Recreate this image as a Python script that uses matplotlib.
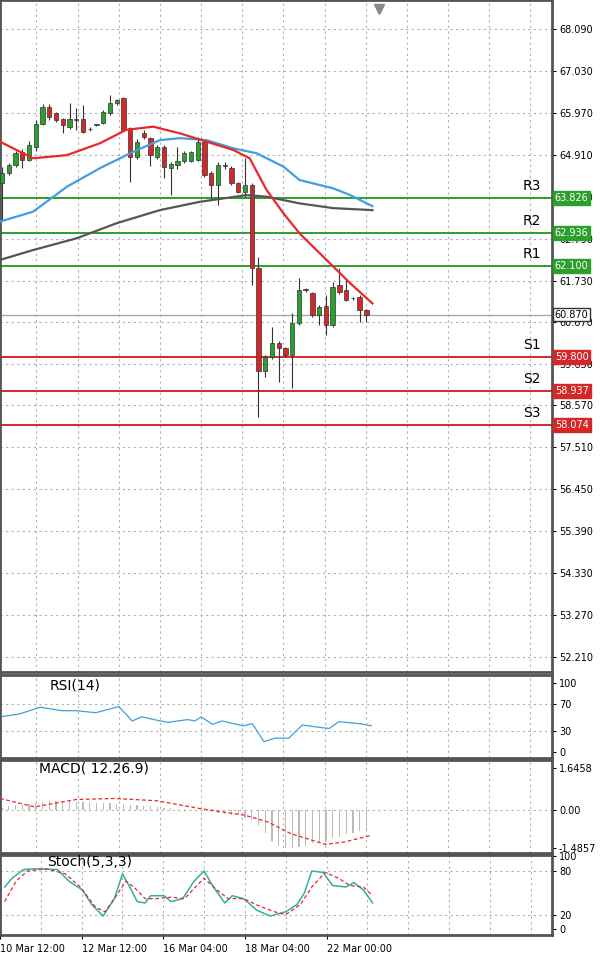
import matplotlib
matplotlib.use('Agg')
import matplotlib.pyplot as plt
import matplotlib.transforms as mtransforms
import numpy as np

# candles: open, high, low, close
opens = [64.19, 64.44, 64.65, 64.99, 64.78, 65.11, 65.70, 66.13, 65.96, 65.81, 65.62, 65.81, 65.81, 65.55,
         65.66, 65.72, 65.96, 66.21, 66.34, 65.58, 64.86, 65.47, 65.33, 64.86, 65.11, 64.57, 64.65, 64.74,
         64.74, 64.78, 65.24, 64.44, 64.15, 64.63, 64.57, 64.19, 63.98, 64.15, 62.04, 59.43, 59.80, 60.14,
         60.02, 59.85, 60.65, 61.51, 61.41, 60.86, 61.09, 60.61, 61.62, 61.49, 61.28, 61.32, 60.98]
highs = [64.61, 64.70, 65.00, 65.05, 65.25, 65.79, 66.20, 66.20, 66.00, 65.85, 66.21, 66.08, 66.17, 65.60,
         65.70, 66.05, 66.42, 66.33, 66.38, 65.62, 65.30, 65.54, 65.36, 65.15, 65.15, 64.72, 65.11, 65.00,
         65.00, 65.37, 65.28, 64.50, 64.72, 64.72, 64.62, 64.23, 64.82, 64.20, 62.33, 59.85, 60.56, 60.20,
         60.05, 60.90, 61.79, 61.55, 61.45, 61.10, 61.36, 61.70, 62.04, 61.74, 61.32, 61.36, 61.00]
lows = [63.26, 64.40, 64.60, 64.57, 64.75, 65.00, 65.65, 65.80, 65.75, 65.45, 65.55, 65.54, 65.45, 65.50,
        65.63, 65.68, 65.92, 66.18, 65.50, 64.23, 64.80, 65.30, 64.63, 64.80, 64.31, 63.89, 64.55, 64.70,
        64.72, 64.74, 64.35, 63.81, 63.64, 64.55, 64.15, 63.94, 63.85, 61.62, 58.29, 59.30, 59.75, 59.17,
        59.80, 59.00, 60.60, 61.45, 60.80, 60.61, 60.35, 60.55, 61.40, 61.20, 61.24, 60.69, 60.69]
closes = [64.44, 64.65, 64.95, 64.78, 65.16, 65.70, 66.13, 65.87, 65.79, 65.66, 65.81, 65.80, 65.49, 65.56,
          65.67, 66.00, 66.21, 66.29, 65.54, 64.86, 65.24, 65.37, 64.90, 65.11, 64.61, 64.68, 64.74, 64.95,
          64.99, 65.24, 64.40, 64.15, 64.65, 64.62, 64.19, 63.98, 64.15, 62.04, 59.43, 59.80, 60.14, 60.02,
          59.85, 60.65, 61.49, 61.50, 60.86, 61.07, 60.61, 61.57, 61.45, 61.24, 61.28, 60.98, 60.87]

# moving averages (bar index, price)
ma_fast_x = [-0.3, 4.6, 9.6, 14.5, 18.4, 22.4, 26.4, 30.3, 34.3, 36.7, 39.2, 41.7, 44.1, 46.6, 49.1, 51.6, 54.9]
ma_fast_y = [65.24, 64.82, 64.90, 65.20, 65.54, 65.62, 65.45, 65.24, 65.03, 64.82, 64.02, 63.43, 62.92, 62.50,
             62.08, 61.66, 61.15]
ma_mid_x = [-0.3, 4.6, 9.6, 14.5, 19.5, 23.4, 26.4, 30.3, 34.3, 37.7, 41.7, 44.1, 49.1, 51.6, 54.9]
ma_mid_y = [63.22, 63.47, 64.10, 64.57, 64.99, 65.28, 65.33, 65.28, 65.07, 64.95, 64.61, 64.27, 64.06, 63.89, 63.61]
ma_slow_x = [-0.3, 4.6, 11.1, 17.0, 23.4, 29.3, 36.2, 39.2, 44.1, 49.1, 54.9]
ma_slow_y = [62.25, 62.50, 62.80, 63.18, 63.51, 63.72, 63.89, 63.85, 63.68, 63.56, 63.51]

res_names = ['R3', 'R2', 'R1']
res_levels = [63.826, 62.936, 62.100]
sup_names = ['S1', 'S2', 'S3']
sup_levels = [59.800, 58.937, 58.074]
last_price = 60.870
price_ticks = [52.210, 53.270, 54.330, 55.390, 56.450, 57.510, 58.570, 59.630, 60.670, 61.730,
               62.790, 63.850, 64.910, 65.970, 67.030, 68.090]

rsi_x = [-0.3, 2.5, 5.7, 8.8, 11.0, 13.9, 17.3, 19.3, 20.7, 23.0, 24.6, 27.5, 28.6, 29.5, 31.2, 32.6, 35.7,
         37.1, 38.8, 40.5, 42.5, 44.5, 46.8, 48.5, 49.9, 53.0, 54.7]
rsi_y = [51, 55, 65, 60, 60, 57, 66, 45, 51, 46, 43, 47, 45, 51, 40, 45, 38, 41, 15, 20, 20, 39, 36, 34, 44, 41, 38]

macd_hist = [0.10, 0.15, 0.20, 0.20, 0.25, 0.30, 0.32, 0.35, 0.35, 0.35, 0.35, 0.34, 0.33, 0.32, 0.30, 0.30,
             0.28, 0.26, 0.24, 0.22, 0.20, 0.18, 0.15, 0.12, 0.10, 0.08, 0.05, 0.03, 0.01, 0.0, -0.05, -0.08,
             -0.10, -0.14, -0.17, -0.20, -0.30, -0.40, -0.60, -0.90, -1.20, -1.40, -1.50, -1.50, -1.45, -1.40,
             -1.30, -1.25, -1.20, -1.10, -1.05, -0.95, -0.90, -0.80, -0.75]
macd_sig_x = [-0.3, 4.8, 11.0, 16.7, 23.0, 29.2, 36.0, 39.4, 42.8, 47.9, 50.7, 54.7]
macd_sig_y = [0.46, 0.13, 0.42, 0.46, 0.37, 0.07, -0.20, -0.46, -0.92, -1.34, -1.25, -0.99]

stk_x = [-0.3, 0.8, 2.5, 4.2, 7.6, 9.3, 11.3, 12.7, 14.4, 16.1, 17.3, 18.4, 19.5, 20.7, 21.5, 23.5, 24.6, 26.3,
         28.0, 29.5, 30.9, 32.6, 33.7, 35.4, 37.4, 39.4, 41.7, 43.4, 44.5, 45.6, 47.3, 48.7, 50.7, 51.9, 53.3, 54.7]
stk_y = [58, 70, 82, 83, 82, 66, 54, 34, 18, 42, 76, 58, 38, 36, 46, 46, 38, 42, 66, 80, 58, 36, 46, 42, 26, 18,
         24, 34, 50, 80, 78, 60, 58, 64, 54, 36]
std_x = [-0.3, 1.4, 3.1, 5.9, 8.8, 11.0, 13.3, 14.7, 16.1, 17.8, 19.0, 20.7, 22.4, 24.6, 26.6, 28.0, 29.5, 31.4,
         33.1, 35.4, 37.7, 40.0, 41.7, 43.9, 45.6, 47.6, 49.6, 51.3, 53.3, 54.7]
std_y = [38, 66, 80, 83, 76, 58, 30, 24, 42, 66, 58, 42, 42, 44, 42, 56, 70, 54, 42, 42, 32, 24, 20, 34, 58, 78,
         70, 60, 58, 46]

date_labels = ['10 Mar 12:00', '12 Mar 12:00', '16 Mar 04:00', '18 Mar 04:00', '22 Mar 00:00']

GREEN = '#2ca02c'
RED = '#d62728'
GRID = dict(color='#b0b0b0', linestyle=(0, (2, 3)), linewidth=0.8)
XMIN, XMAX = -0.3, 81.5
vgrid = [-1.0 + 6.1 * k for k in range(15)]

fig = plt.figure(figsize=(6, 9.65), dpi=100)
H = 965.0
W = 552 / 600


def make_ax(top, bottom):
    ax = fig.add_axes([0, 1 - bottom / H, W, (bottom - top) / H])
    ax.set_xlim(XMIN, XMAX)
    ax.yaxis.tick_right()
    ax.tick_params(axis='y', labelsize=7, length=3, pad=2)
    ax.tick_params(axis='x', bottom=False, labelbottom=False)
    for s in ax.spines.values():
        s.set_color('#555555')
        s.set_linewidth(2)
    for g in vgrid:
        ax.axvline(g, zorder=0, **GRID)
    return ax


ax = make_ax(0, 672)
ax.set_ylim(52.21 - (672 - 657) / 39.55, 68.09 + 29 / 39.55)
ax.set_yticks(price_ticks)
ax.set_yticklabels([f'{v:.3f}' for v in price_ticks])
for v in price_ticks:
    ax.axhline(v, zorder=0, **GRID)

idx = np.arange(len(opens))
for i in idx:
    up = closes[i] >= opens[i]
    col = GREEN if up else RED
    ax.vlines(i, lows[i], highs[i], color='#333333', linewidth=0.8, zorder=3)
    lo, hi = min(opens[i], closes[i]), max(opens[i], closes[i])
    ax.bar(i, max(hi - lo, 0.02), bottom=lo, width=0.65, color=col, edgecolor='#333333', linewidth=0.5, zorder=4)

ax.plot(ma_slow_x, ma_slow_y, color='#555555', linewidth=1.6, zorder=5)
ax.plot(ma_mid_x, ma_mid_y, color='#3fa0e0', linewidth=1.6, zorder=5)
ax.plot(ma_fast_x, ma_fast_y, color='#e8282a', linewidth=1.6, zorder=5)

trans = mtransforms.blended_transform_factory(ax.transAxes, ax.transData)
for names, levels, col in [(res_names, res_levels, GREEN), (sup_names, sup_levels, RED)]:
    for n, lv in zip(names, levels):
        ax.axhline(lv, color=col, linewidth=1.4, zorder=2)
        ax.text(78.5, lv + 0.12, n, fontsize=10, ha='center', va='bottom', zorder=6)
        ax.text(1.005, lv, f'{lv:.3f}', transform=trans, fontsize=7, color='white', va='center', ha='left',
                clip_on=False, zorder=10,
                bbox=dict(boxstyle='square,pad=0.2', facecolor=col, edgecolor=col))
ax.axhline(last_price, color='#aaaaaa', linewidth=1, zorder=2)
ax.text(1.005, last_price, f'{last_price:.3f}', transform=trans, fontsize=7, color='black', va='center',
        ha='left', clip_on=False, zorder=10,
        bbox=dict(boxstyle='square,pad=0.2', facecolor='white', edgecolor='#333333'))
ax.plot([55.8], [68.09 + 20 / 39.55], marker='v', color='#888888', markersize=7, clip_on=False, zorder=6)

# RSI
ar = make_ax(675, 758)
ar.set_ylim(-9, 112)
ar.set_yticks([0, 30, 70, 100])
for v in [30, 70]:
    ar.axhline(v, zorder=0, **GRID)
ar.plot(rsi_x, rsi_y, color='#3fa0e0', linewidth=0.9)
ar.text(7, 97, 'RSI(14)', fontsize=10, va='center')

# MACD
am = make_ax(760, 853)
am.set_ylim(-1.68, 1.97)
am.set_yticks([-1.4857, 0.0, 1.6458])
am.set_yticklabels(['-1.4857', '0.00', '1.6458'])
am.axhline(0, zorder=0, **GRID)
am.bar(idx, macd_hist, width=0.2, color='#bbbbbb', zorder=2)
am.plot(macd_sig_x, macd_sig_y, color='#e8282a', linestyle=(0, (3, 2)), linewidth=0.9, zorder=3)
am.text(5.5, 1.65, 'MACD( 12.26.9)', fontsize=10, va='center')

# Stochastic
ak = make_ax(855, 935)
ak.set_ylim(-8, 102)
ak.set_yticks([0, 20, 80, 100])
for v in [20, 80]:
    ak.axhline(v, zorder=0, **GRID)
ak.plot(stk_x, stk_y, color='#30b0a0', linewidth=1.1, zorder=3)
ak.plot(std_x, std_y, color='#e8282a', linestyle=(0, (3, 2)), linewidth=0.9, zorder=3)
ak.text(6.0, 93, 'Stoch(5,3,3)', fontsize=10, va='center', zorder=4)
ak.tick_params(axis='x', bottom=True, labelbottom=True, length=3, labelsize=7)
ak.set_xticks([vgrid[2 * k] for k in range(len(date_labels))])
ak.set_xticklabels(date_labels, ha='left')

fig.savefig('out.png', dpi=100)
